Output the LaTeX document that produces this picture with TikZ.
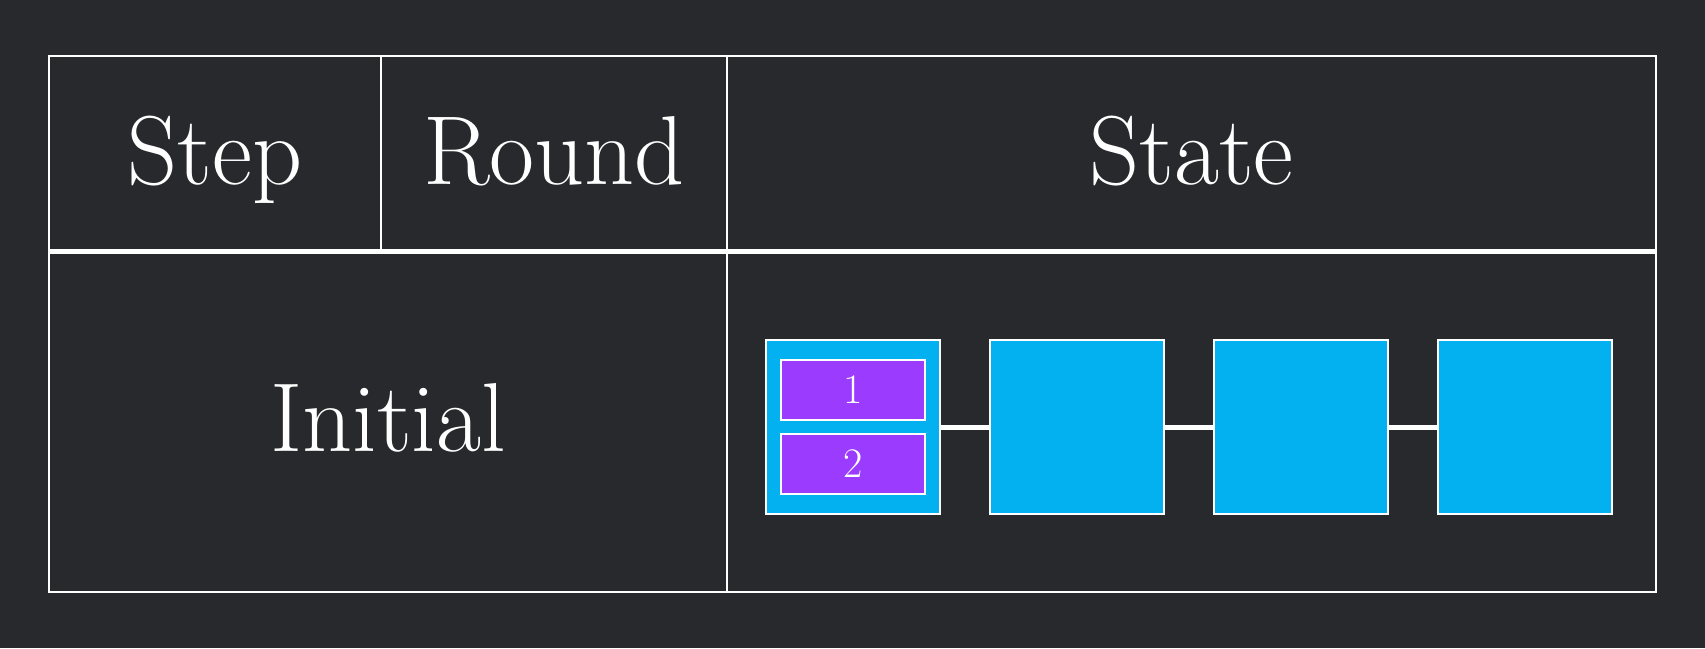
\documentclass[tikz,border=0pt]{standalone}
\usepackage{fontspec}
\usetikzlibrary{positioning}
\usepackage{xcolor}
\definecolor{bgdark}{HTML}{27292D}
\definecolor{cellblue}{HTML}{03B1F0}
\definecolor{slotpurple}{HTML}{9B3BFD}

\begin{document}
\begin{tikzpicture}[x=1pt, y=-1pt,
    cellbox/.style={draw=white, line width=2pt, fill=cellblue, minimum width=174pt, minimum height=174pt, inner sep=0pt},
    slotbox/.style={draw=white, line width=2pt, fill=slotpurple, minimum width=144pt, minimum height=60pt, inner sep=0pt, text=white, font=\fontsize{42}{50}\selectfont},
    headtext/.style={text=white, font=\fontsize{98}{110}\selectfont, anchor=base, inner sep=0pt},
    link/.style={draw=white, line width=5pt}]
      \fill[bgdark] (0, 0) rectangle (1705, 648);
      \useasboundingbox (0, 0) rectangle (1705, 648);

      % table frame
      \draw[white, line width=1.5pt] (49, 56) rectangle (1656, 592);
      \draw[white, line width=1.5pt] (381, 56) -- (381, 251);
      \draw[white, line width=2pt] (727, 56) -- (727, 592);
      \draw[white, line width=4.5pt] (49, 251.5) -- (1656, 251.5);

      \node[headtext] (step) at (215, 184) {Step};
      \node[headtext] (round) at (554, 184) {Round};
      \node[headtext] (state) at (1191.5, 184) {State};
      \node[headtext] (initial) at (388, 451) {Initial};

      % state cells
      \node[cellbox] (c1) at (853, 427) {};
      \node[cellbox, right=48pt of c1] (c2) {};
      \node[cellbox, right=48pt of c2] (c3) {};
      \node[cellbox, right=48pt of c3] (c4) {};
      \draw[link] (c1) -- (c2);
      \draw[link] (c2) -- (c3);
      \draw[link] (c3) -- (c4);

      \node[slotbox] (s1) at (853, 390) {1};
      \node[slotbox] (s2) at (853, 464) {2};

    \end{tikzpicture}
\end{document}
